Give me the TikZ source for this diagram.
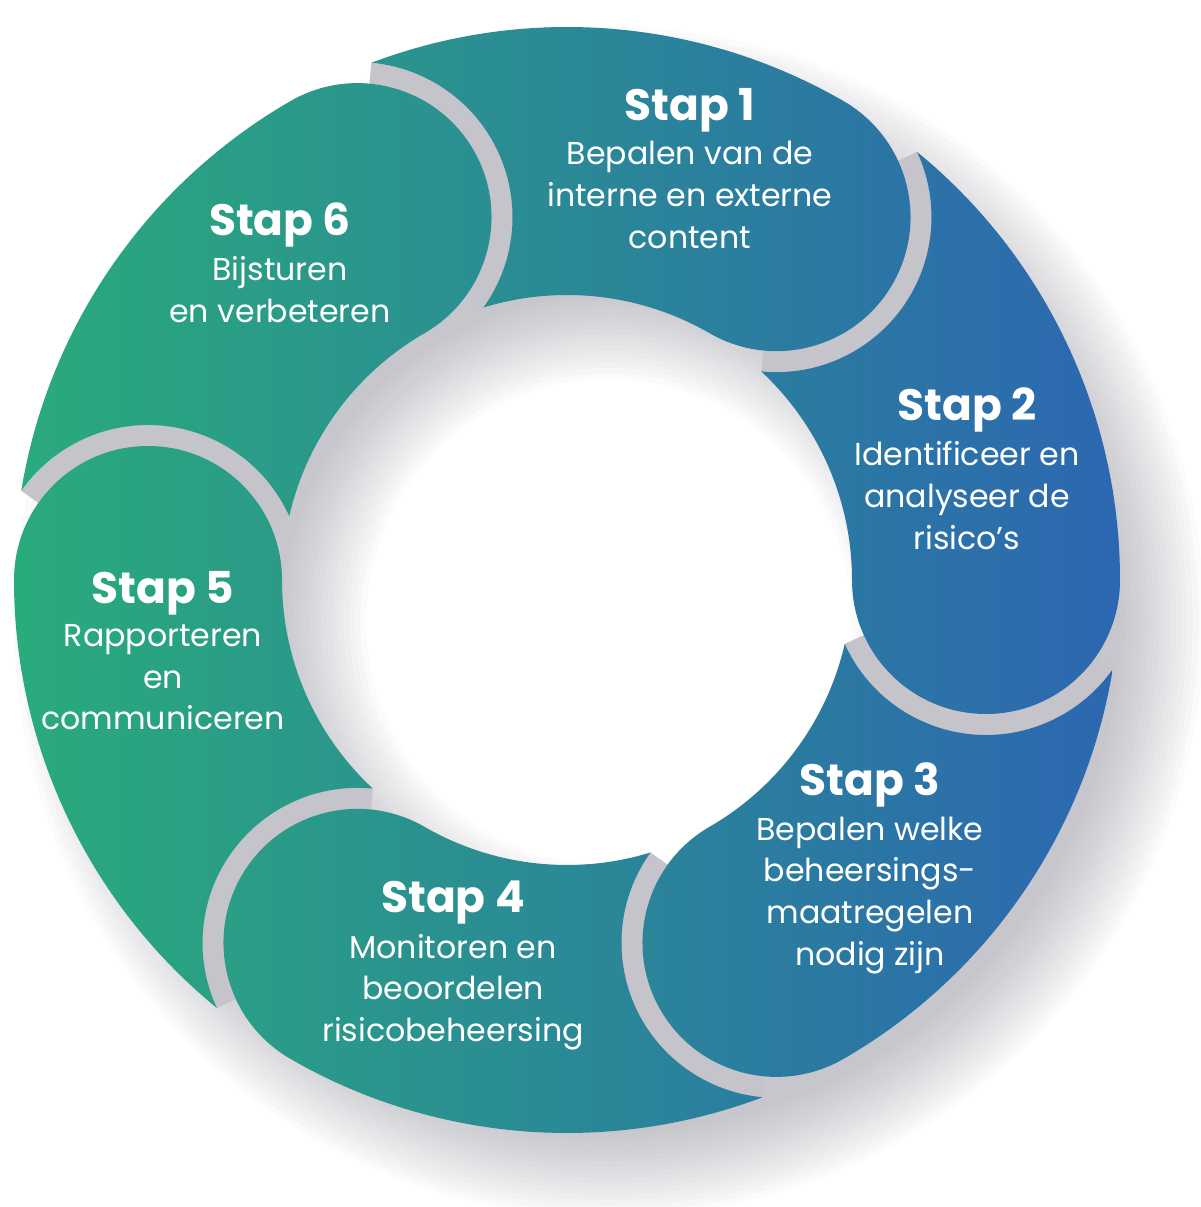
\documentclass[tikz,border=0pt]{standalone}
\usepackage{fontspec}
\setmainfont{Poppins}
\usepackage{tikz}
\usetikzlibrary{calc,positioning}
\definecolor{ringgreen}{HTML}{29AB7B}
\definecolor{ringblue}{HTML}{2C67B1}
\definecolor{gapgrey}{HTML}{C4C4CA}
\definecolor{shadowgrey}{HTML}{4A4A5C}
\def\ringR{5.53}
\def\ringr{2.85}
\def\midr{4.19}
\def\headr{1.34}
\def\gapr{1.55}
% one step of the ring: round head at angle #1, tail cut round the head before it
\newcommand\steppath[1]{%
  ({#1+60-9.28}:\ringR) arc[start angle={#1+60-9.28}, end angle={#1}, radius=\ringR]
  arc[start angle={#1}, end angle={#1-180}, radius=\headr]
  arc[start angle={#1}, end angle={#1+60-12.94}, radius=\ringr]
  arc[start angle={#1+60+204.32}, end angle={#1+60+324.87}, radius=\gapr] -- cycle}
% the slit between the head at angle #1 and the next tail
\newcommand\gappath[1]{%
  ($(#1:\midr)+({#1+204.32}:\gapr)$) arc[start angle={#1+204.32}, end angle={#1+324.87}, radius=\gapr]
  -- ($(#1:\midr)+({#1+324.87}:\headr)$) arc[start angle={#1+324.87}, end angle={#1+204.32}, radius=\headr] -- cycle}
\tikzset{
  ringshadow/.style={fill=shadowgrey, opacity=0.022, even odd rule},
  gap/.style={fill=gapgrey},
  steptitle/.style={text=white, font=\fontsize{12.5}{14}\selectfont\bfseries, inner sep=0pt},
  steptext/.style={text=white, font=\fontsize{9}{11.9}\selectfont, align=center, inner sep=0pt},
}

\begin{document}
\begin{tikzpicture}
  \useasboundingbox (-5.67,-6.27) rectangle (6.33,5.80);
  % soft shadow under the ring
  \foreach \i in {0,...,15}
    \fill[ringshadow] (0.42,-0.42) circle ({\ringR-0.42+\i*0.056})
                      (0.42,-0.42) circle ({\ringr+0.42-\i*0.056});
  % grey slits in front of each head
  \foreach \h in {60,0,...,-240}
    \fill[gap] \gappath{\h};
  % the six steps
  \foreach \h in {60,0,...,-240}{
    \begin{scope}
      \clip \steppath{\h};
      \shade[left color=ringgreen, right color=ringblue] (-\ringR,-\ringR) rectangle (\ringR,\ringR);
    \end{scope}
  }
  \foreach \n/\x/\y/\txt in {
      1/1.23/4.70/{Bepalen van de\\interne en externe\\content},
      2/4.00/1.70/{Identificeer en\\analyseer de\\risico’s},
      3/3.03/-2.05/{Bepalen welke\\beheersings-\\maatregelen\\nodig zijn},
      4/-1.14/-3.23/{Monitoren en\\beoordelen\\risicobeheersing},
      5/-4.04/-0.13/{Rapporteren\\en\\communiceren},
      6/-2.87/3.55/{Bijsturen\\en verbeteren}}{
    \node[steptitle] (title\n) at (\x,\y) {Stap \n};
    \node[steptext, below=0.08 of title\n] (text\n) {\txt};
  }
\end{tikzpicture}
\end{document}
